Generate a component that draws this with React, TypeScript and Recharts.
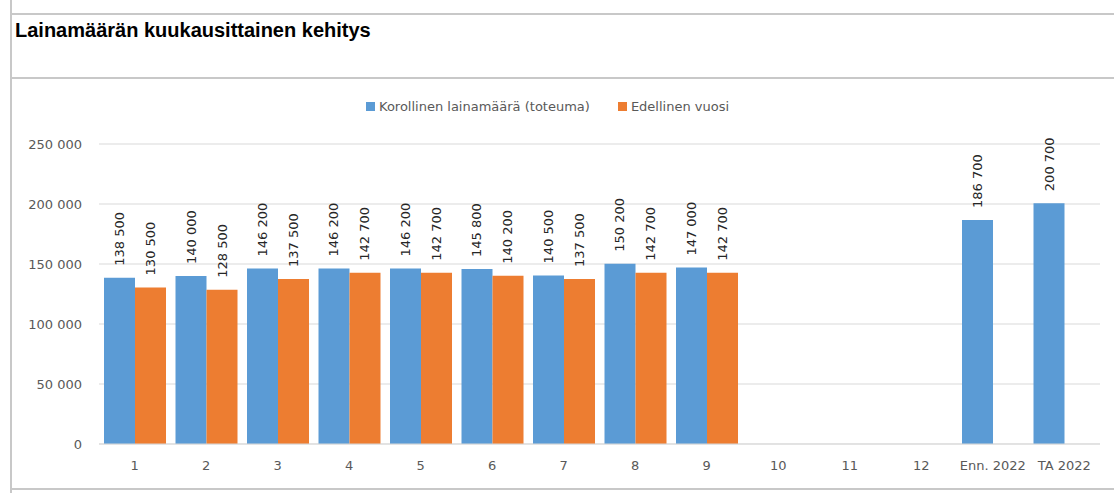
import { BarChart, Bar, XAxis, YAxis, CartesianGrid, LabelList } from 'recharts';

const categories = ['1', '2', '3', '4', '5', '6', '7', '8', '9', '10', '11', '12', 'Enn. 2022', 'TA 2022'];
const actual = [138500, 140000, 146200, 146200, 146200, 145800, 140500, 150200, 147000, null, null, null, 186700, 200700];
const previous = [130500, 128500, 137500, 142700, 142700, 140200, 137500, 142700, 142700, null, null, null, null, null];
const yTicks = [0, 50000, 100000, 150000, 200000, 250000];

const BLUE = '#5B9BD5';
const ORANGE = '#ED7D31';
const FONT = '"DejaVu Sans", sans-serif';

const data = categories.map((c, i) => ({ name: c, actual: actual[i], previous: previous[i] }));

const fmt = (v: number) => String(v).replace(/\B(?=(\d{3})+(?!\d))/g, ' ');

const VerticalLabel = (props: any) => {
  const { x, y, width, value } = props;
  if (value == null) return null;
  const cx = x + width / 2;
  const cy = y - 12;
  return (
    <text
      x={cx}
      y={cy}
      transform={`rotate(-90 ${cx} ${cy})`}
      textAnchor="start"
      dominantBaseline="central"
      fontSize={13}
      fontFamily={FONT}
      fill="#262626"
    >
      {fmt(value)}
    </text>
  );
};

const line = (style: React.CSSProperties) => (
  <div style={{ position: 'absolute', background: '#C8C8C8', ...style }} />
);

export default function App() {
  return (
    <div style={{ position: 'absolute', top: 0, left: 0, width: 1114, height: 493, background: '#fff' }}>
      {line({ left: 10, top: 0, width: 2, height: 493 })}
      {line({ left: 10, top: 13, width: 1104, height: 2 })}
      {line({ left: 10, top: 77, width: 1104, height: 2 })}
      {line({ left: 10, top: 488, width: 1104, height: 2 })}
      <div
        style={{
          position: 'absolute',
          left: 15,
          top: 19,
          fontFamily: '"Liberation Sans", Arial, sans-serif',
          fontWeight: 'bold',
          fontSize: 20,
          color: '#000',
        }}
      >
        Lainamäärän kuukausittainen kehitys
      </div>
      <div
        style={{
          position: 'absolute',
          left: 366,
          top: 99,
          display: 'flex',
          alignItems: 'center',
          fontFamily: FONT,
          fontSize: 13,
          color: '#595959',
        }}
      >
        <span style={{ width: 9, height: 9, background: BLUE, marginRight: 4 }} />
        <span style={{ marginRight: 28 }}>Korollinen lainamäärä (toteuma)</span>
        <span style={{ width: 9, height: 9, background: ORANGE, marginRight: 4 }} />
        <span>Edellinen vuosi</span>
      </div>
      <div style={{ position: 'absolute', left: 0, top: 0 }}>
        <BarChart
          width={1114}
          height={493}
          data={data}
          margin={{ top: 144, right: 14, bottom: 19, left: 0 }}
          barCategoryGap="7%"
          barGap={0}
        >
          <CartesianGrid vertical={false} stroke="#D9D9D9" />
          <XAxis
            dataKey="name"
            height={30}
            tickLine={false}
            tickSize={0}
            tickMargin={17}
            axisLine={{ stroke: '#D9D9D9' }}
            interval={0}
            tick={{ fontSize: 13, fontFamily: FONT, fill: '#595959' }}
          />
          <YAxis
            width={99}
            domain={[0, 250000]}
            ticks={yTicks}
            axisLine={false}
            tickLine={false}
            tickSize={0}
            tickMargin={17}
            tickFormatter={fmt}
            tick={{ fontSize: 13, fontFamily: FONT, fill: '#595959' }}
          />
          <Bar dataKey="actual" fill={BLUE} isAnimationActive={false}>
            <LabelList dataKey="actual" content={VerticalLabel} />
          </Bar>
          <Bar dataKey="previous" fill={ORANGE} isAnimationActive={false}>
            <LabelList dataKey="previous" content={VerticalLabel} />
          </Bar>
        </BarChart>
      </div>
    </div>
  );
}
